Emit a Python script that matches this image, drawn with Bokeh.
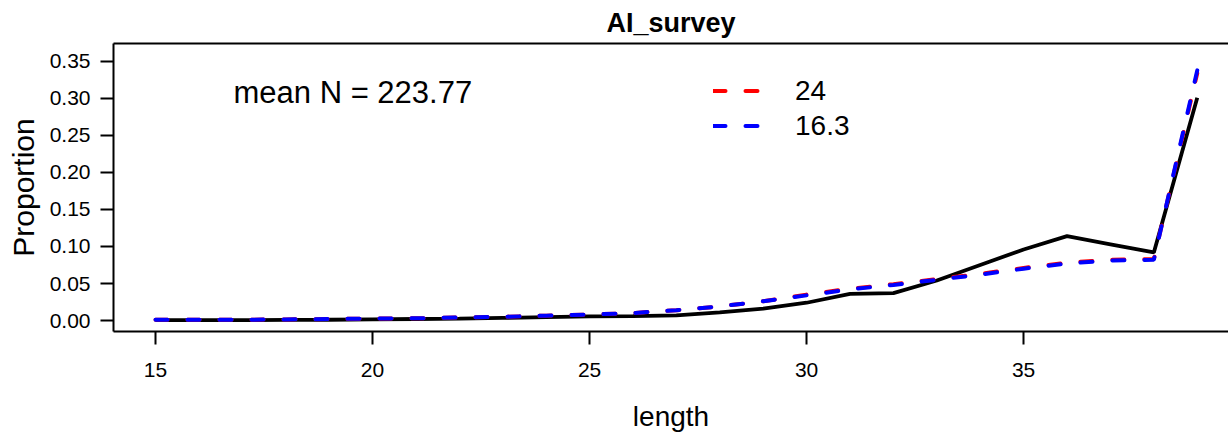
from bokeh.plotting import figure
from bokeh.models import (Range1d, FixedTicker, PrintfTickFormatter, LinearAxis,
                          Label, Legend, LegendItem)
from bokeh.embed import file_html
from bokeh.resources import INLINE

# ---- data ----
length = [15, 16, 17, 18, 19, 20, 21, 22, 23, 24, 25, 26, 27,
          28, 29, 30, 31, 32, 33, 34, 35, 36, 37, 38, 39]
observed = [0.0005, 0.0005, 0.0005, 0.0008, 0.0010, 0.0015, 0.0020, 0.0025,
            0.0035, 0.0045, 0.0055, 0.0060, 0.0070, 0.0110, 0.0160, 0.0240,
            0.0360, 0.0370, 0.0540, 0.0750, 0.0960, 0.1140, 0.1030, 0.0920,
            0.3010]
expected_24 = [0.0010, 0.0010, 0.0010, 0.0015, 0.0020, 0.0025, 0.0030, 0.0040,
               0.0050, 0.0065, 0.0080, 0.0100, 0.0140, 0.0190, 0.0260, 0.0350,
               0.0430, 0.0490, 0.0560, 0.0630, 0.0710, 0.0780, 0.0820, 0.0830,
               0.3340]
expected_16_3 = [0.0010, 0.0010, 0.0010, 0.0015, 0.0020, 0.0025, 0.0030, 0.0040,
                 0.0050, 0.0065, 0.0080, 0.0100, 0.0140, 0.0190, 0.0260, 0.0340,
                 0.0420, 0.0480, 0.0550, 0.0620, 0.0700, 0.0770, 0.0810, 0.0820,
                 0.3380]
series_labels = ["24", "16.3"]
x_ticks = [15, 20, 25, 30, 35]
y_ticks = [0.00, 0.05, 0.10, 0.15, 0.20, 0.25, 0.30, 0.35]
title_text = "AI_survey"
mean_n_text = "mean N =  223.77"

FONT = "Liberation Sans"

p = figure(width=1228, height=435,
           x_range=Range1d(14.032, 39.72), y_range=Range1d(-0.01486, 0.3743),
           output_backend="svg", toolbar_location=None,
           min_border_left=113, min_border_right=0,
           min_border_top=43, min_border_bottom=104)
p.outline_line_color = None
p.grid.visible = False
p.background_fill_color = "white"
p.border_fill_color = "white"

# title
p.title.text = title_text
p.title.align = "center"
p.title.vertical_align = "top"
p.title.offset = 3
p.title.text_font = FONT
p.title.text_font_size = "27px"
p.title.text_font_style = "bold"
p.title.text_color = "black"
p.title.standoff = 7

# x axis
xa = p.xaxis[0]
xa.ticker = FixedTicker(ticks=x_ticks)
xa.axis_label = "length"
xa.axis_label_text_font = FONT
xa.axis_label_text_font_size = "28px"
xa.axis_label_text_font_style = "normal"
xa.axis_label_text_color = "black"
xa.axis_label_standoff = 21
xa.major_label_text_font = FONT
xa.major_label_text_font_size = "21px"
xa.major_label_text_color = "black"
xa.major_label_standoff = 18
xa.major_tick_out = 13
xa.major_tick_in = 0
xa.minor_tick_out = 0
xa.minor_tick_in = 0
xa.major_tick_line_width = 2
xa.major_tick_line_color = "black"
xa.axis_line_width = 2
xa.axis_line_color = "black"

# y axis
ya = p.yaxis[0]
ya.ticker = FixedTicker(ticks=y_ticks)
ya.formatter = PrintfTickFormatter(format="%.2f")
ya.axis_label = "Proportion"
ya.axis_label_text_font = FONT
ya.axis_label_text_font_size = "30px"
ya.axis_label_text_font_style = "normal"
ya.axis_label_text_color = "black"
ya.axis_label_standoff = 7
ya.major_label_text_font = FONT
ya.major_label_text_font_size = "21px"
ya.major_label_text_color = "black"
ya.major_label_orientation = "horizontal"
ya.major_label_standoff = 10
ya.major_tick_out = 13
ya.major_tick_in = 0
ya.minor_tick_out = 0
ya.minor_tick_in = 0
ya.major_tick_line_width = 2
ya.major_tick_line_color = "black"
ya.axis_line_width = 2
ya.axis_line_color = "black"

# top edge of the box
top = LinearAxis(ticker=FixedTicker(ticks=[]), axis_line_width=2,
                 axis_line_color="black", major_tick_out=0, major_tick_in=0,
                 minor_tick_out=0, minor_tick_in=0,
                 major_label_text_font_size="0px")
p.add_layout(top, "above")

# lines
p.line(length, observed, line_color="black", line_width=3.8)
r_red = p.line(length, expected_24, line_color="#FF0000", line_width=4,
               line_dash="12 20", line_cap="round")
r_blue = p.line(length, expected_16_3, line_color="#0000FF", line_width=4,
                line_dash="12 20", line_cap="round")

# legend
leg = Legend(items=[LegendItem(label=series_labels[0], renderers=[r_red]),
                    LegendItem(label=series_labels[1], renderers=[r_blue])],
             location=(600, 188), orientation="vertical",
             glyph_width=49, glyph_height=35, label_height=35,
             label_standoff=33, spacing=0, padding=0, margin=0,
             border_line_color=None, background_fill_alpha=0,
             label_text_font=FONT, label_text_font_size="28px",
             label_text_color="black")
p.add_layout(leg, "center")

# mean N annotation
p.add_layout(Label(x=120, y=239, x_units="screen", y_units="screen",
                   text=mean_n_text, text_font=FONT, text_font_size="31px",
                   text_color="black", text_baseline="alphabetic"))

open("out.html", "w").write(file_html(p, INLINE))
